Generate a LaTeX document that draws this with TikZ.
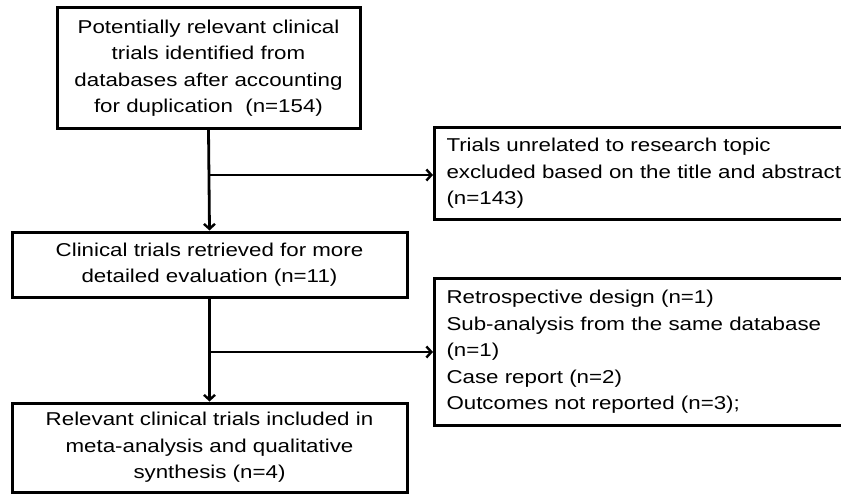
\documentclass[tikz,border=0pt]{standalone}
\usepackage{fontspec}
\setmainfont[FakeStretch=1.2]{Liberation Sans}
\usetikzlibrary{arrows.meta}
\begin{document}
\begin{tikzpicture}[x=1pt,y=-1pt,
  every node/.style={font=\fontsize{18.6}{26.5}\selectfont},
  flowbox/.style={draw=black, line width=3pt, inner sep=0pt, align=center},
  sidebox/.style={draw=black, line width=3pt, inner xsep=12pt, inner ysep=0pt, align=left, text width=406pt, anchor=north west},
  arr/.style={draw=black, line width=2.8pt, -{Straight Barb[length=5pt,width=11pt,line width=2.4pt]}}]
\useasboundingbox (0,0) rectangle (841,495);
\clip (0,0) rectangle (841,495);
\fill[white] (0,0) rectangle (841,495);
\node[flowbox, minimum width=303pt, minimum height=120pt] (b1) at (208.5,68)
  {Potentially relevant clinical\\trials identified from\\databases after accounting\\for duplication~~(n=154)};
\node[flowbox, minimum width=395pt, minimum height=65pt] (b2) at (209.5,264.5)
  {Clinical trials retrieved for more\\detailed evaluation (n=11)};
\node[flowbox, minimum width=395pt, minimum height=89pt] (b3) at (209.5,447.5)
  {Relevant clinical trials included in\\meta-analysis and qualitative\\synthesis (n=4)};
\node[sidebox, minimum height=92pt] (ea) at (433,126)
  {Trials unrelated to research topic\\excluded based on the title and abstract\\(n=143)};
\node[sidebox, minimum height=147pt] (eb) at (433,277)
  {Retrospective design (n=1)\\Sub-analysis from the same database\\(n=1)\\Case report (n=2)\\Outcomes not reported (n=3);};
\coordinate (j1) at (209,175);
\coordinate (j2) at (209,352);
\draw[arr] (b1.south) -- (b2.north);
\draw[arr] (j1) -- (j1 -| ea.west);
\draw[arr] (b2.south) -- (b3.north);
\draw[arr] (j2) -- (j2 -| eb.west);
\end{tikzpicture}
\end{document}
